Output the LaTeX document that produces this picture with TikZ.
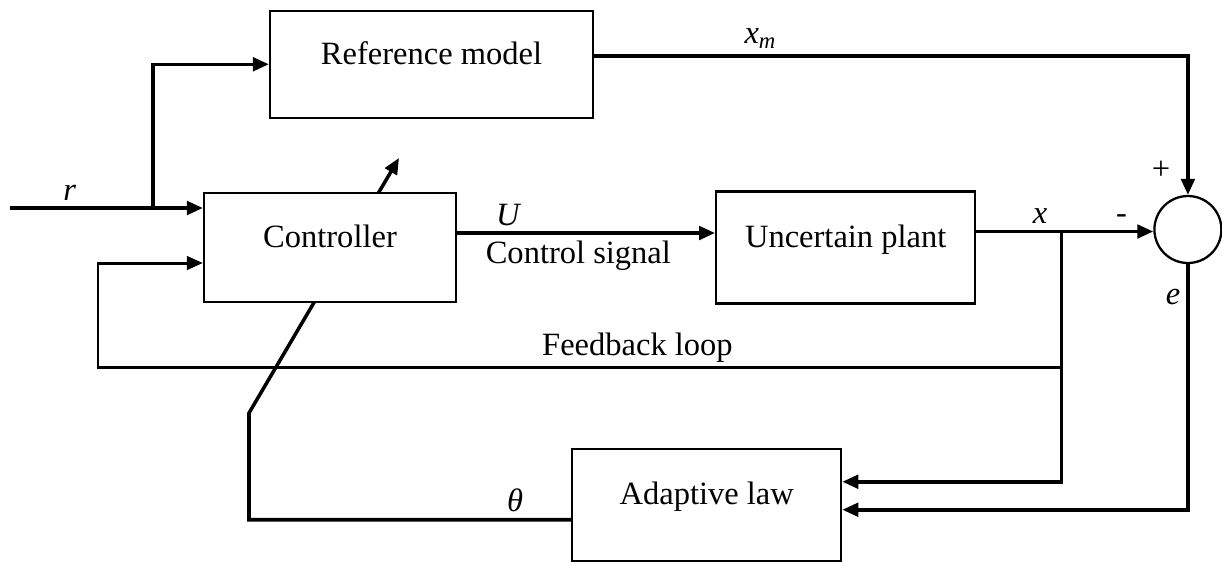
\documentclass[tikz,border=0pt]{standalone}
\usepackage{fontspec}
\setmainfont{Liberation Serif}
\usepackage{tikz}
\usetikzlibrary{arrows.meta}
\usetikzlibrary{backgrounds}
\usetikzlibrary{positioning}

\begin{document}
\begin{tikzpicture}[
      x=0.02cm, y=-0.02cm,
      font=\fontsize{18.5}{22}\selectfont,
      block/.style={rectangle, draw, fill=white, line width=1.3pt,
                    text height=0pt, text depth=0pt},
      adder/.style={circle, draw, fill=white, line width=1.3pt,
                    minimum size=1.34cm, inner sep=0pt},
      line width=2pt, ->, >={Triangle[length=0.32cm, width=0.27cm]}
    ]
      \useasboundingbox (0,0) rectangle (1222,562);

      \node [block, minimum width=5.04cm, minimum height=2.18cm] (ctrl) at (330,247.5) {Controller};
      \node [block, minimum width=6.46cm, minimum height=2.14cm,
             above=1.46cm of ctrl, xshift=2.03cm] (refm) {Reference model};
      \node [block, minimum width=5.18cm, minimum height=2.24cm,
             right=5.16cm of ctrl] (plant) {Uncertain plant};
      \node [adder, right=3.54cm of plant, yshift=0.36cm] (sum) {};
      \node [block, minimum width=5.38cm, minimum height=2.24cm,
             below=2.86cm of plant, xshift=-2.78cm] (adapt) {Adaptive law};
      \node (plus) at (1161,170) {+};

      \coordinate (in) at (10,208);
      \coordinate (br) at (153,208);
      \coordinate (xm) at ([yshift=0.17cm]refm.east);
      \coordinate (uo) at ([yshift=0.29cm]ctrl.east);
      \coordinate (xo) at ([yshift=0.32cm]plant.east);
      \coordinate (bx) at ([xshift=1.7cm]xo);
      \coordinate (fb) at (98,367);
      \coordinate (fbin) at ([yshift=-0.31cm]ctrl.west);
      \coordinate (ain) at ([yshift=0.46cm]adapt.east);
      \coordinate (ein) at ([yshift=-0.1cm]adapt.east);
      \coordinate (th) at ([yshift=-0.3cm]adapt.west);
      \coordinate (tk) at (249,413);
      \coordinate (tip) at (399,158);

      \draw (in) -- node [above, pos=0.31] {\textit{r}} (in -| ctrl.west);
      \draw (br) |- (refm.west);
      \draw (xm) -| node [above, pos=0.14] {\textit{x}\textsubscript{\textit{m}}} (sum.north);
      \draw (uo) -- node [above, pos=0.2] {\textit{U}}
                    node [below, pos=0.47] {Control signal} (uo -| plant.west);
      \draw (xo) -- node [above, pos=0.36] {\textit{x}}
                    node [above, pos=0.82] {-} (xo -| sum.west);
      \draw [line width=1.7pt] (bx) |- node [above, pos=0.72, inner sep=2pt] {Feedback loop} (fb) |- (fbin);
      \draw (bx) |- (ain);
      \draw (sum.south) |- node [left, pos=0.066] {\textit{e}} (ein);
      \begin{scope}[on background layer]
        \draw [line width=2pt, ->, >={Triangle[length=0.32cm, width=0.27cm]}]
          (th) -| node [above, pos=0.087] {\textit{θ}} (tk) -- (tip);
      \end{scope}
    \end{tikzpicture}
\end{document}
